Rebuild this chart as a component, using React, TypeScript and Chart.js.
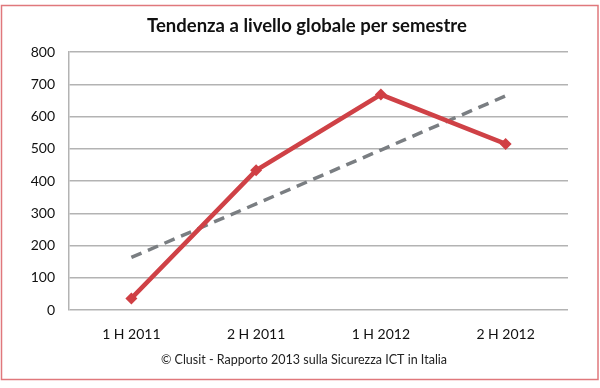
import React, { useEffect, useRef } from "react";
import { Chart, registerables } from "chart.js";

Chart.register(...registerables);

const categories = ["1 H 2011", "2 H 2011", "1 H 2012", "2 H 2012"];
const attacks = [36, 433, 668, 515];
const trend = [163, 329, 496, 664];
const chartTitle = "Tendenza a livello globale per semestre";
const footerText = "© Clusit - Rapporto 2013 sulla Sicurezza ICT in Italia";

const FONT = "Lato, 'Open Sans', sans-serif";

const decor = {
  id: "decor",
  afterDraw(chart: any) {
    const ctx = chart.ctx;
    ctx.save();
    ctx.strokeStyle = "#e0787c";
    ctx.lineWidth = 1.5;
    ctx.strokeRect(1.5, 5.5, 596.5, 374);
    ctx.fillStyle = "#111";
    ctx.textAlign = "center";
    ctx.textBaseline = "middle";
    ctx.font = `bold 18.5px ${FONT}`;
    ctx.fillText(chartTitle, 307, 26);
    ctx.font = `12.5px ${FONT}`;
    ctx.fillStyle = "#222";
    ctx.fillText(footerText, 304, 360);
    ctx.restore();
  },
};

export default function App() {
  const ref = useRef<HTMLCanvasElement | null>(null);
  useEffect(() => {
    if (!ref.current) return;
    const chart = new Chart(ref.current, {
      type: "line",
      data: {
        labels: categories,
        datasets: [
          {
            label: "Attacchi",
            data: attacks,
            borderColor: "#cf4146",
            backgroundColor: "#cf4146",
            borderWidth: 4.5,
            pointStyle: "rectRot",
            pointRadius: 6,
            pointBorderWidth: 0,
            pointBackgroundColor: "#d03f44",
            tension: 0,
            order: 1,
          },
          {
            label: "Tendenza",
            data: trend,
            borderColor: "#7a7e82",
            borderWidth: 3.5,
            borderDash: [11, 7],
            pointRadius: 0,
            tension: 0,
            order: 2,
          },
        ],
      },
      options: {
        responsive: false,
        animation: false,
        layout: { padding: { left: 10, top: 52, right: 32, bottom: 38 } },
        plugins: {
          legend: { display: false },
          title: { display: false },
          tooltip: { enabled: false },
        },
        scales: {
          x: {
            offset: true,
            grid: { display: false, drawTicks: false },
            border: { display: false },
            ticks: {
              padding: 16,
              color: "#111",
              font: { family: FONT, size: 14 },
              maxRotation: 0,
            },
            afterFit(scale: any) {
              scale.height = 40;
            },
          },
          y: {
            min: 0,
            max: 800,
            grid: { color: "#b3b3b3", lineWidth: 1.5, drawTicks: false },
            border: { display: true, color: "#b3b3b3", width: 1.5 },
            ticks: {
              stepSize: 100,
              padding: 14,
              color: "#111",
              font: { family: FONT, size: 14 },
            },
            afterFit(scale: any) {
              scale.width = 59;
            },
          },
        },
      },
      plugins: [decor],
    });
    return () => chart.destroy();
  }, []);
  return (
    <div style={{ position: "fixed", left: 0, top: 0, width: 600, height: 388, background: "#fff" }}>
      <canvas ref={ref} width={600} height={388} style={{ width: 600, height: 388 }} />
    </div>
  );
}
